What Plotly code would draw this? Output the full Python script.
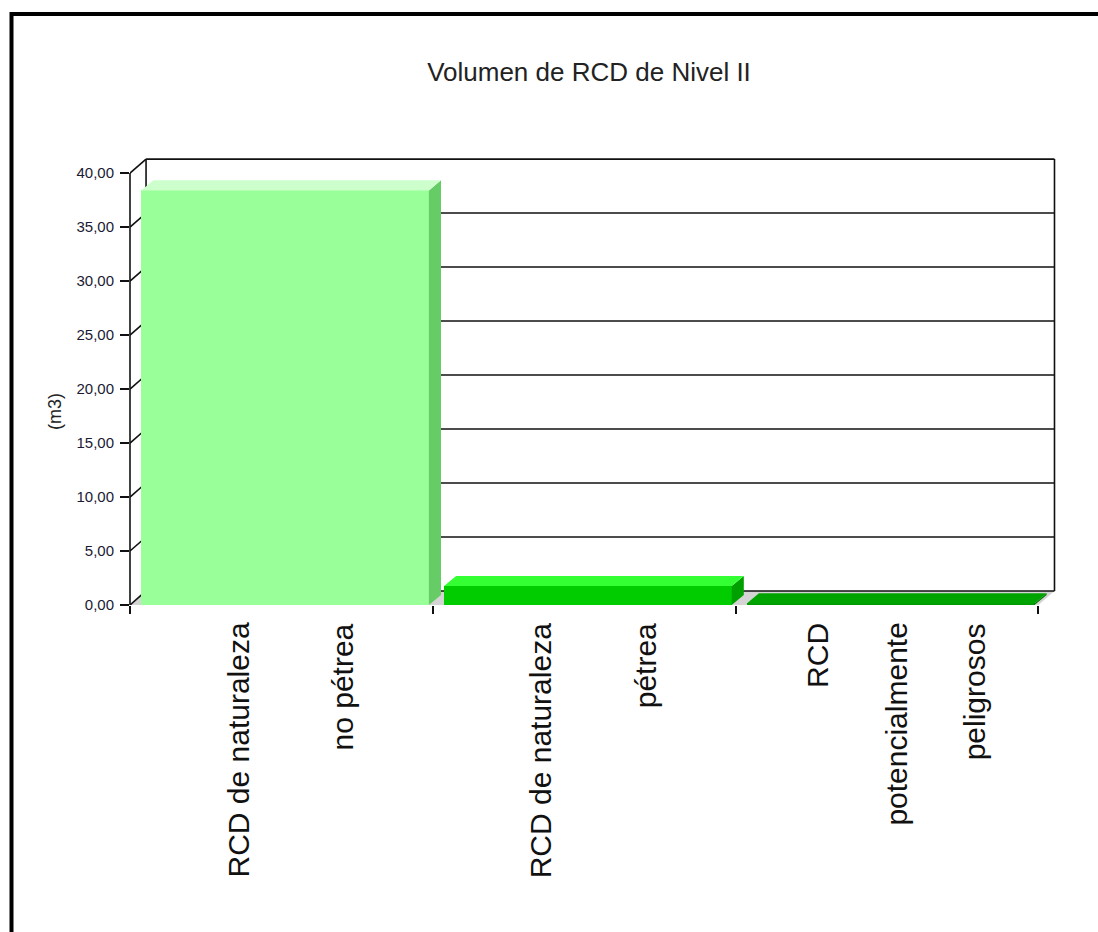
import plotly.graph_objects as go

# ---- data -------------------------------------------------------------
categories = [
    "RCD de naturaleza no pétrea",
    "RCD de naturaleza pétrea",
    "RCD potencialmente peligrosos",
]
label_lines = [
    ["RCD de naturaleza", "no pétrea"],
    ["RCD de naturaleza", "pétrea"],
    ["RCD", "potencialmente", "peligrosos"],
]
volumes = [38.4, 1.75, 0.15]
y_ticks = [0, 5, 10, 15, 20, 25, 30, 35, 40]

# ---- styling -----------------------------------------------------------
front_colors = ["#99FF99", "#00CC00", "#009900"]
top_colors = ["#CCFFCC", "#33FF33", "#00A400"]
side_colors = ["#66CC66", "#00A000", "#007700"]
FONT = "Arial, Liberation Sans, sans-serif"

W, H = 1098, 932
L, R, T, B = 130, 42, 158, 327
X_RANGE = [-0.5, 2.558]
Y_RANGE = [0, 41.4]
WALL_DX, WALL_DY = 0.053, 1.3      # depth of the back wall
BAR_DX, BAR_DY = 0.04, 0.93        # depth of each bar
BAR_WIDTH, BAR_OFFSET = 0.95, -0.463
Y_MAX = y_ticks[-1]

pw, ph = W - L - R, H - T - B


def px_x(px):
    return (px - L) / pw


def px_y(py):
    return (H - B - py) / ph


idx = list(range(len(categories)))
x_first, x_last = idx[0] - 0.5, idx[-1] + 0.5

fig = go.Figure()

# front faces of the bars
fig.add_trace(go.Bar(
    x=idx, y=volumes, width=BAR_WIDTH, offset=BAR_OFFSET,
    marker=dict(color=front_colors, line=dict(width=0)),
    customdata=categories, hovertemplate="%{customdata}: %{y:.2f}<extra></extra>",
    showlegend=False,
))

# top and side faces
for i, v in zip(idx, volumes):
    x0 = i + BAR_OFFSET
    x1 = x0 + BAR_WIDTH
    fig.add_trace(go.Scatter(
        x=[x1, x1 + BAR_DX, x1 + BAR_DX, x1, x1],
        y=[0, BAR_DY, v + BAR_DY, v, 0],
        fill="toself", fillcolor=side_colors[i], mode="lines",
        line=dict(width=0), hoverinfo="skip", showlegend=False,
    ))
    fig.add_trace(go.Scatter(
        x=[x0, x1, x1 + BAR_DX, x0 + BAR_DX, x0],
        y=[v, v, v + BAR_DY, v + BAR_DY, v],
        fill="toself", fillcolor=top_colors[i], mode="lines",
        line=dict(width=0), hoverinfo="skip", showlegend=False,
    ))

shapes = []
# floor
shapes.append(dict(
    type="path", xref="x", yref="y", layer="below",
    path=(f"M {x_first},0 L {x_last},0 L {x_last + WALL_DX},{WALL_DY} "
          f"L {x_first + WALL_DX},{WALL_DY} Z"),
    fillcolor="#D4D4D4", line=dict(width=0),
))
grid_line = dict(color="#111111", width=1.6)
for v in y_ticks:
    # back wall gridline
    shapes.append(dict(type="line", xref="x", yref="y", layer="below",
                       x0=x_first + WALL_DX, x1=x_last + WALL_DX,
                       y0=v + WALL_DY, y1=v + WALL_DY, line=grid_line))
    # left wall gridline
    shapes.append(dict(type="line", xref="x", yref="y", layer="below",
                       x0=x_first, x1=x_first + WALL_DX,
                       y0=v, y1=v + WALL_DY, line=grid_line))
# back wall vertical edges
for xe in (x_first + WALL_DX, x_last + WALL_DX):
    shapes.append(dict(type="line", xref="x", yref="y", layer="below",
                       x0=xe, x1=xe, y0=WALL_DY, y1=Y_MAX + WALL_DY,
                       line=grid_line))
# front value axis
shapes.append(dict(type="line", xref="paper", yref="y", layer="above",
                   x0=0, x1=0, y0=0, y1=Y_MAX, line=dict(color="#111111", width=1.6)))
# page frame
shapes.append(dict(type="rect", xref="paper", yref="paper", layer="above",
                   x0=px_x(11.5), x1=px_x(1115), y0=px_y(14), y1=px_y(960),
                   line=dict(color="black", width=4), fillcolor="rgba(0,0,0,0)"))

annotations = []
# category labels, one rotated column per line
for i, lines in zip(idx, label_lines):
    n = len(lines)
    step = 1.04 / (n + 1)
    for k, line in enumerate(lines):
        annotations.append(dict(
            text=line, xref="x", yref="y",
            x=i + 0.03 + (k - (n - 1) / 2) * step, y=0,
            xanchor="center", yanchor="top", yshift=-16,
            textangle=-90, showarrow=False,
            font=dict(family=FONT, size=30, color="#111111"),
        ))
# value axis title
annotations.append(dict(
    text="(m3)", xref="paper", yref="paper", x=px_x(55), y=px_y(412),
    xanchor="center", yanchor="middle", textangle=-90, showarrow=False,
    font=dict(family=FONT, size=18, color="#222222"),
))

fig.update_layout(
    width=W, height=H,
    margin=dict(l=L, r=R, t=T, b=B, pad=0),
    paper_bgcolor="white", plot_bgcolor="white",
    separators=",.",
    title=dict(text="Volumen de RCD de Nivel II", x=589 / W, xref="container",
               xanchor="center", y=1 - 72 / H, yref="container", yanchor="middle",
               font=dict(family=FONT, size=26, color="#222222")),
    xaxis=dict(range=X_RANGE, showgrid=False, zeroline=False, showline=False,
               tickvals=[x_first + k for k in range(len(categories) + 1)],
               showticklabels=False, ticks="outside", ticklen=8,
               tickwidth=1.6, tickcolor="#111111", fixedrange=True),
    yaxis=dict(range=Y_RANGE, showgrid=False, zeroline=False, showline=False,
               tickvals=y_ticks, tickformat=".2f", ticks="outside", ticklen=9,
               tickwidth=1.6, tickcolor="#111111", ticklabelstandoff=3,
               tickfont=dict(family=FONT, size=15, color="#1a1a33"),
               fixedrange=True),
    shapes=shapes,
    annotations=annotations,
    bargap=0,
)

fig.write_html("out.html")
